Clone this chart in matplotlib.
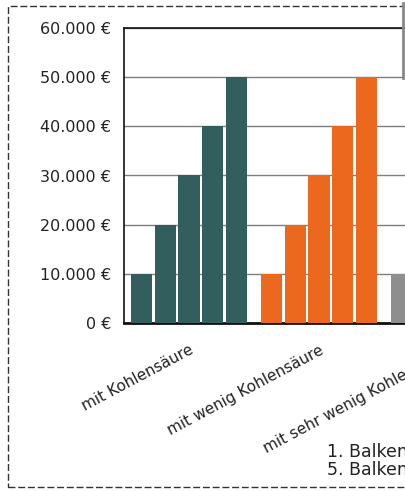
'''Balkendiagramm Kohlensaeure - nachgebaut

To run: python3 plot.py
'''

import matplotlib
matplotlib.use("Agg")
import matplotlib.pyplot as plt
from matplotlib.patches import Rectangle
from matplotlib.lines import Line2D
import numpy as np

# Daten
kategorien = ["mit Kohlensäure", "mit wenig Kohlensäure", "mit sehr wenig Kohlensäure"]
werte_kohlensaeure = [10000, 20000, 30000, 40000, 50000]
werte_wenig = [10000, 20000, 30000, 40000, 50000]
werte_sehr_wenig = [10000, 20000, 30000, 40000, 50000]
farben = ["#325F5E", "#EC681E", "#8E8E8E"]
y_ticks = [0, 10000, 20000, 30000, 40000, 50000, 60000]
legende = ["1. Balken", "5. Balken"]

plt.rcParams['font.family'] = ['DejaVu Sans']

W, H = 406, 491
fig = plt.figure(figsize=(W / 100, H / 100), dpi=100)

# axes bigger than the picture, right side is cut off like in the original
left, right, top, bottom = 124, 514, 28, 323
ax = fig.add_axes([left / W, 1 - bottom / H, (right - left) / W, (bottom - top) / H])
ax.set_axisbelow(True)

gruppen = [werte_kohlensaeure, werte_wenig, werte_sehr_wenig]
pitch = 0.182
breite = 0.163
for i, werte in enumerate(gruppen):
    for j, v in enumerate(werte):
        ax.bar(i + (j - 2) * pitch, v, width=breite, color=farben[i], zorder=3)

ax.set_xlim(-0.5, len(kategorien) - 0.5)
ax.set_ylim(0, 60000)
ax.set_yticks(y_ticks)
ax.set_yticklabels([f"{t:,.0f} €".replace(",", ".") for t in y_ticks], fontsize=11.5, color="#222222")
ax.set_xticks(range(len(kategorien)))
ax.set_xticklabels(kategorien, rotation=28, ha="right", rotation_mode="anchor",
                   fontsize=11, color="#222222")
ax.tick_params(axis="y", length=0, pad=9)
ax.tick_params(axis="x", length=0, pad=14)
ax.grid(axis="y", color="#7f7f7f", linewidth=1)
for s in ["left", "top", "right"]:
    ax.spines[s].set_color("#111111")
    ax.spines[s].set_linewidth(1.2)
ax.spines["bottom"].set_linewidth(2)
ax.spines["bottom"].set_color("#111111")

# Legende (abgeschnitten)
for k, txt in enumerate(legende):
    fig.text(327 / W, 1 - (452 + 18 * k) / H, txt, fontsize=12.5, va="center", color="#222222")

# gestrichelter Rahmen
rahmen = Rectangle((8 / W, 1 - 487 / H), 1.2, (487 - 6) / H, transform=fig.transFigure,
                   fill=False, edgecolor="#333333", linewidth=1, linestyle=(0, (5, 2)))
fig.patches.append(rahmen)
fig.lines.append(Line2D([403 / W, 403 / W], [1 - 3 / H, 1 - 78 / H], transform=fig.transFigure,
                        color="#888888", linewidth=2))

fig.savefig("out.png", dpi=100)
